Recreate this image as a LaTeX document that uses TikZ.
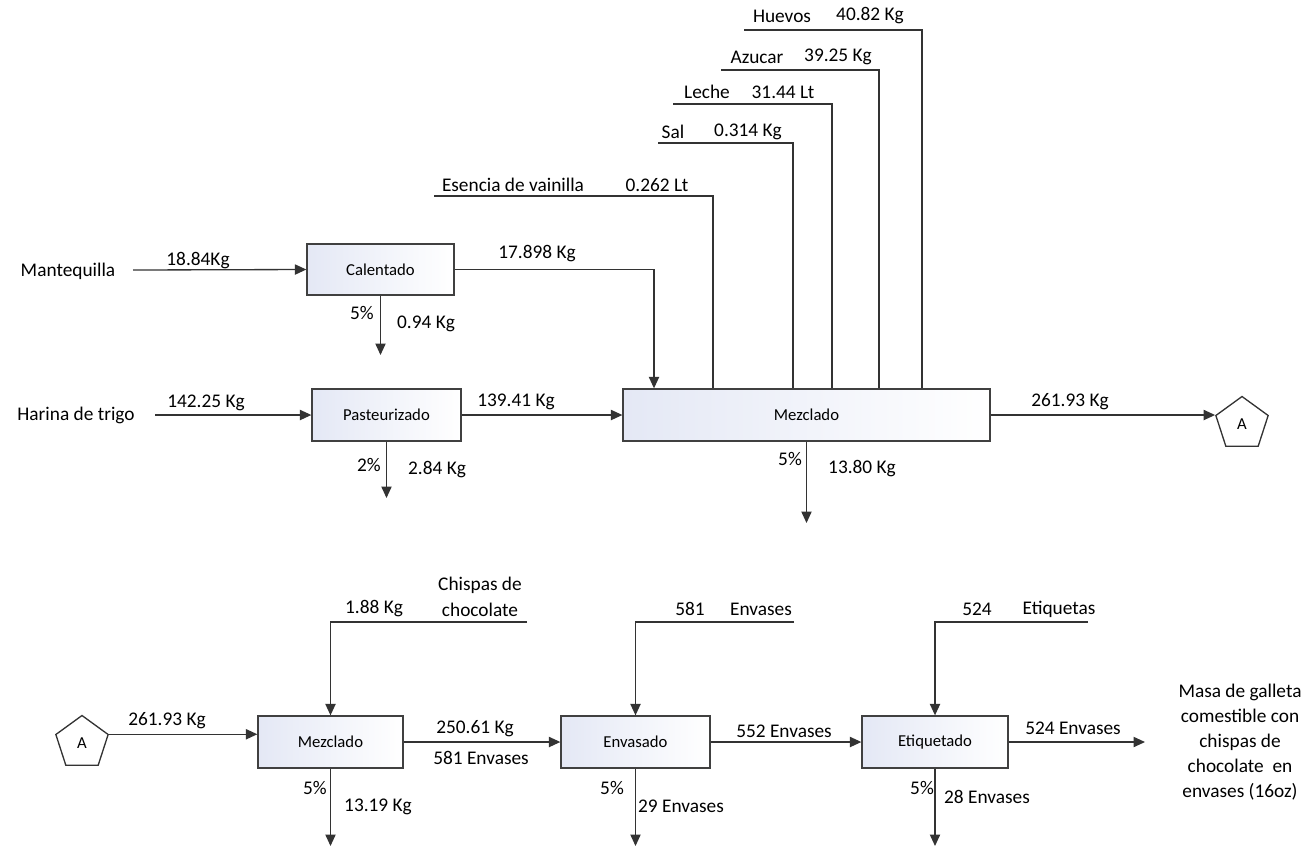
\documentclass[tikz,border=0pt]{standalone}
\usepackage{fontspec}
\setmainfont{Carlito}
\usetikzlibrary{arrows.meta,shapes.geometric}
\begin{document}
\begin{tikzpicture}[x=0.02cm,y=-0.02cm,
  ln/.style={draw=black!80, line width=0.75pt},
  arr/.style={ln, -{Triangle[length=6.5pt,width=5.8pt]}},
  box/.style={draw=black!75, line width=0.75pt, left color={rgb,255:red,228;green,232;blue,245}, right color=white, font=\fontsize{9.5}{11}\selectfont, inner sep=0pt},
  lbl/.style={font=\fontsize{11}{13}\selectfont, inner sep=0pt},
  pent/.style={draw=black!80, line width=0.75pt, regular polygon, regular polygon sides=5, minimum size=1.1cm, inner sep=0pt, font=\fontsize{9.5}{11}\selectfont, fill=white}
]
\useasboundingbox (0,0) rectangle (1308,853);

% ---------- boxes ----------
\node[box, minimum width=2.94cm, minimum height=1.02cm] (cal) at (380.5,269.5) {Calentado};
\node[box, minimum width=2.98cm, minimum height=1.04cm] (pas) at (386.5,415) {Pasteurizado};
\node[box, minimum width=7.34cm, minimum height=1.04cm] (mez) at (806.5,415) {Mezclado};
\node[pent] (A1) at (1242,424) {A};

\node[box, minimum width=2.9cm, minimum height=1.04cm] (mez2) at (330.5,742) {Mezclado};
\node[box, minimum width=2.98cm, minimum height=1.04cm] (env) at (635.5,742) {Envasado};
\node[box, minimum width=2.92cm, minimum height=1.04cm] (eti) at (935,742) {Etiquetado};
\node[pent] (A2) at (82,743) {A};

% ---------- top section ----------
\node[lbl] (mant) at (68,271) {Mantequilla};
\coordinate (mantS) at (133,270);
\draw[arr] (mantS) -- (cal.west);
\node[lbl] at (198,261) {18.84Kg};

\node[lbl] (har) at (76,415) {Harina de trigo};
\coordinate (harS) at (155,415);
\draw[arr] (harS) -- (pas.west);
\node[lbl] at (206,403) {142.25 Kg};

\coordinate (calD) at (380.5,355);
\draw[arr] (cal.south) -- (calD);
\node[lbl] at (362,313) {5\%};
\node[lbl] at (426,324) {0.94 Kg};

\coordinate (k17) at (654,0);
\draw[arr] (cal.east) -| (k17 |- mez.north);
\node[lbl] at (537,254) {17.898 Kg};

\coordinate (pasD) at (386.5,498);
\draw[arr] (pas.south) -- (pasD);
\node[lbl] at (369,465) {2\%};
\node[lbl] at (437,470) {2.84 Kg};

\draw[arr] (pas.east) -- (mez.west);
\node[lbl] at (516,402) {139.41 Kg};

\coordinate (mezD) at (806.5,523);
\draw[arr] (mez.south) -- (mezD);
\node[lbl] at (790,459) {5\%};
\node[lbl] at (862,469) {13.80 Kg};

\draw[arr] (mez.east) -- (mez.east -| A1.corner 2);
\node[lbl] at (1070,402) {261.93 Kg};

% ingredient lines
\coordinate (es1) at (434,196); \coordinate (es2) at (713,196);
\draw[ln] (es1) -- (es2) -- (es2 |- mez.north);
\node[lbl] at (513,185) {Esencia de vainilla};
\node[lbl] at (657,185) {0.262 Lt};

\coordinate (sa1) at (658,143); \coordinate (sa2) at (793,143);
\draw[ln] (sa1) -- (sa2) -- (sa2 |- mez.north);
\node[lbl] at (673,132) {Sal};
\node[lbl] at (748,132) {0.314 Kg};

\coordinate (le1) at (673,104); \coordinate (le2) at (832,104);
\draw[ln] (le1) -- (le2) -- (le2 |- mez.north);
\node[lbl] at (707,92) {Leche};
\node[lbl] at (783,92) {31.44 Lt};

\coordinate (az1) at (721,70); \coordinate (az2) at (879,70);
\draw[ln] (az1) -- (az2) -- (az2 |- mez.north);
\node[lbl] at (757,57) {Azucar};
\node[lbl] at (838,57) {39.25 Kg};

\coordinate (hu1) at (744,30); \coordinate (hu2) at (922,30);
\draw[ln] (hu1) -- (hu2) -- (hu2 |- mez.north);
\node[lbl] at (782,16) {Huevos};
\node[lbl] at (870,16) {40.82 Kg};

% ---------- bottom section ----------
\draw[arr] (A2.corner 5) -- (A2.corner 5 -| mez2.west);
\node[lbl] at (167,721) {261.93 Kg};

\coordinate (ch1) at (527,622); \coordinate (ch2) at (330.5,622);
\draw[arr] (ch1) -- (ch2) -- (mez2.north);
\node[lbl] at (374,609) {1.88 Kg};
\node[lbl] at (480,585) {Chispas de};
\node[lbl] at (480,610) {chocolate};

\draw[arr] (mez2.east) -- (env.west);
\node[lbl] at (475,729) {250.61 Kg};
\node[lbl] at (481,758) {581 Envases};

\coordinate (m2D) at (330.5,846);
\draw[arr] (mez2.south) -- (m2D);
\node[lbl] at (315,788) {5\%};
\node[lbl] at (378,807) {13.19 Kg};

\coordinate (en1) at (794,622); \coordinate (en2) at (635.5,622);
\draw[arr] (en1) -- (en2) -- (env.north);
\node[lbl] at (690,609) {581};
\node[lbl] at (761,609) {Envases};

\coordinate (enD) at (635.5,846);
\draw[arr] (env.south) -- (enD);
\node[lbl] at (612,788) {5\%};
\node[lbl] at (681,806) {29 Envases};

\draw[arr] (env.east) -- (eti.west);
\node[lbl] at (784,731) {552 Envases};

\coordinate (et1) at (1088,622); \coordinate (et2) at (935,622);
\draw[arr] (et1) -- (et2) -- (eti.north);
\node[lbl] at (977,609) {524};
\node[lbl] at (1059,609) {Etiquetas};

\coordinate (etD) at (935,846);
\draw[arr] (eti.south) -- (etD);
\node[lbl] at (922,788) {5\%};
\node[lbl] at (987,797) {28 Envases};

\coordinate (etO) at (1145,742);
\draw[arr] (eti.east) -- (etO);
\node[lbl] at (1073,728) {524 Envases};

\node[lbl, align=center, font=\fontsize{11}{14.2}\selectfont] (prod) at (1240,742)
  {Masa de galleta\\comestible con\\chispas de\\chocolate\ \ en\\envases (16oz)};
\end{tikzpicture}
\end{document}
